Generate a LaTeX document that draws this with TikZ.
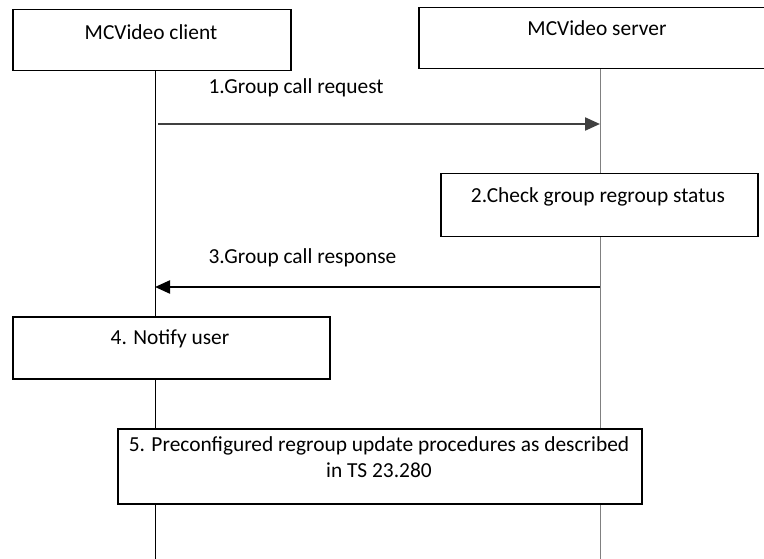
\documentclass[tikz,border=0pt]{standalone}
\usepackage{fontspec}
\setmainfont{Carlito}
\usetikzlibrary{arrows.meta}
\begin{document}
\begin{tikzpicture}[x=1pt,y=-1pt,
  font=\fontsize{21.4}{26}\selectfont,
  box/.style={draw,line width=1.5pt,fill=white,anchor=north west,inner sep=0pt},
  life/.style={line width=0.8pt},
  msg/.style={line width=2.2pt,-{Triangle[length=15pt,width=13pt]}}]
\useasboundingbox (0,0) rectangle (764,559);

% lifelines
\coordinate (ctop) at (155,70);  \coordinate (cend) at (155,559);
\coordinate (stop) at (600,68);  \coordinate (send) at (600,559);
\draw[life] (ctop) -- (cend);
\draw[life,draw=gray] (stop) -- (send);

% entities
\node[box,minimum width=278pt,minimum height=61pt] (client) at (12,9) {};
\node (clientlbl) at (151,32) {MCVideo client};
\node[box,minimum width=348pt,minimum height=61pt] (server) at (418,7) {};
\node (serverlbl) at (597,28) {MCVideo server};

% 1
\coordinate (c1) at (158,124); \coordinate (s1) at (600,124);
\draw[msg,draw=black!75] (c1) -- (s1);
\node[anchor=west] (req) at (205,88) {1.Group call request};

% 2
\node[box,minimum width=317pt,minimum height=63pt] (check) at (440,173) {};
\node (checklbl) at (598,197) {2.Check group regroup status};

% 3
\coordinate (s3) at (600,287); \coordinate (c3) at (155,287);
\draw[msg] (s3) -- (c3);
\node[anchor=west] (resp) at (205,258) {3.Group call response};

% 4
\node[box,minimum width=317pt,minimum height=62pt] (notify) at (12,316) {};
\node (notifylbl) at (170,339) {4. Notify user};

% 5
\node[box,minimum width=524pt,minimum height=75pt] (regroup) at (117,428) {};
\node[align=center] (regrouplbl) at (379,457) {5. Preconfigured regroup update procedures as described\\in TS 23.280};
\end{tikzpicture}
\end{document}
